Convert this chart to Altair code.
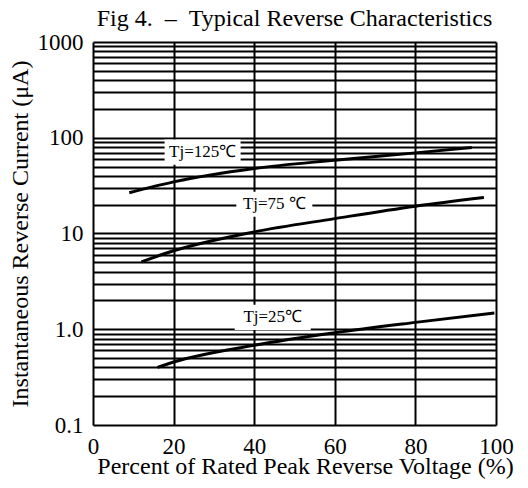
import altair as alt
import pandas as pd

# Curves
x125 = [9, 20, 40, 60, 80, 94]
y125 = [26.6, 34.6, 47.8, 58.3, 69.5, 79]
x75 = [12, 20, 40, 60, 80, 97]
y75 = [5.05, 6.6, 10.4, 14.3, 19.3, 23.8]
x25 = [16, 20, 40, 60, 80, 99.6]
y25 = [0.40, 0.455, 0.68, 0.92, 1.18, 1.48]

x_ticks = [0, 20, 40, 60, 80, 100]
y_grid = [0.1, 0.2, 0.3, 0.4, 0.5, 0.6, 0.7, 0.8, 0.9,
          1, 2, 3, 4, 5, 6, 7, 8, 9,
          10, 20, 30, 40, 50, 60, 70, 80, 90,
          100, 200, 300, 400, 500, 600, 700, 800, 900, 1000]

label_text = ["Tj=125\u2103", "Tj=75 \u2103", "Tj=25\u2103"]
label_x = [27.2, 45.0, 44.6]
label_y = [70.8, 20.2, 1.33]

rows = []
for name, xs, ys in [("125", x125, y125), ("75", x75, y75), ("25", x25, y25)]:
    for a, b in zip(xs, ys):
        rows.append({"series": name, "x": a, "y": b})
df = pd.DataFrame(rows)
lab = pd.DataFrame({"text": label_text, "x": label_x, "y": label_y})

FONT = "Liberation Serif"

xs = alt.Scale(domain=[0, 100], nice=False)
ys = alt.Scale(type="log", domain=[0.1, 1000], nice=False)

label_expr = ("datum.value == 1000 ? '1000' : datum.value == 100 ? '100' : "
              "datum.value == 10 ? '10' : datum.value == 1 ? '1.0' : "
              "datum.value == 0.1 ? '0.1' : ''")

lines = alt.Chart(df).mark_line(color="black", strokeWidth=3, interpolate="monotone").encode(
    x=alt.X("x:Q", scale=xs, axis=alt.Axis(
        values=x_ticks, title="Percent of Rated Peak Reverse Voltage (%)",
        grid=True, gridColor="black", gridWidth=2, gridOpacity=1,
        ticks=False, domain=False, labelFont=FONT, labelFontSize=23,
        labelColor="black", labelPadding=10, titleFont=FONT, titleFontSize=24,
        titleFontWeight="normal", titleColor="black",
        titleX=212, titleY=48, titleAlign="center", titleBaseline="alphabetic",
        labelFlush=False)),
    y=alt.Y("y:Q", scale=ys, axis=alt.Axis(
        values=y_grid, labelExpr=label_expr, title="Instantaneous Reverse Current (\u03bcA)",
        grid=True, gridColor="black", gridWidth=2, gridOpacity=1,
        ticks=False, domain=False, labelFont=FONT, labelFontSize=23,
        labelColor="black", labelPadding=10, labelOverlap=False, labelFlush=False,
        titleFont=FONT, titleFontSize=24, titleFontWeight="normal",
        titleColor="black", titlePadding=5)),
    detail="series:N",
)

boxes = alt.Chart(lab).mark_point(
    shape="M-1,-0.33L1,-0.33L1,0.33L-1,0.33Z", size=76 * 76, filled=True,
    fill="white", stroke=None, opacity=1,
).encode(x=alt.X("x:Q", scale=xs), y=alt.Y("y:Q", scale=ys))

texts = alt.Chart(lab).mark_text(font=FONT, fontSize=17, color="black").encode(
    x=alt.X("x:Q", scale=xs), y=alt.Y("y:Q", scale=ys), text="text:N")

chart = alt.layer(lines, boxes, texts).properties(
    width=403, height=383,
    autosize=alt.AutoSizeParams(type="none"),
    padding={"left": 85, "top": 34, "right": 24, "bottom": 55},
    title=alt.TitleParams("Fig 4.\u00a0\u00a0\u2013\u00a0\u00a0Typical Reverse Characteristics",
                          font=FONT, fontSize=24, fontWeight="normal", color="black",
                          anchor="middle", offset=0),
).configure_view(stroke="black", strokeWidth=2).configure(background="white")

chart.save("out.html", embed_options={"renderer": "svg", "actions": False})
